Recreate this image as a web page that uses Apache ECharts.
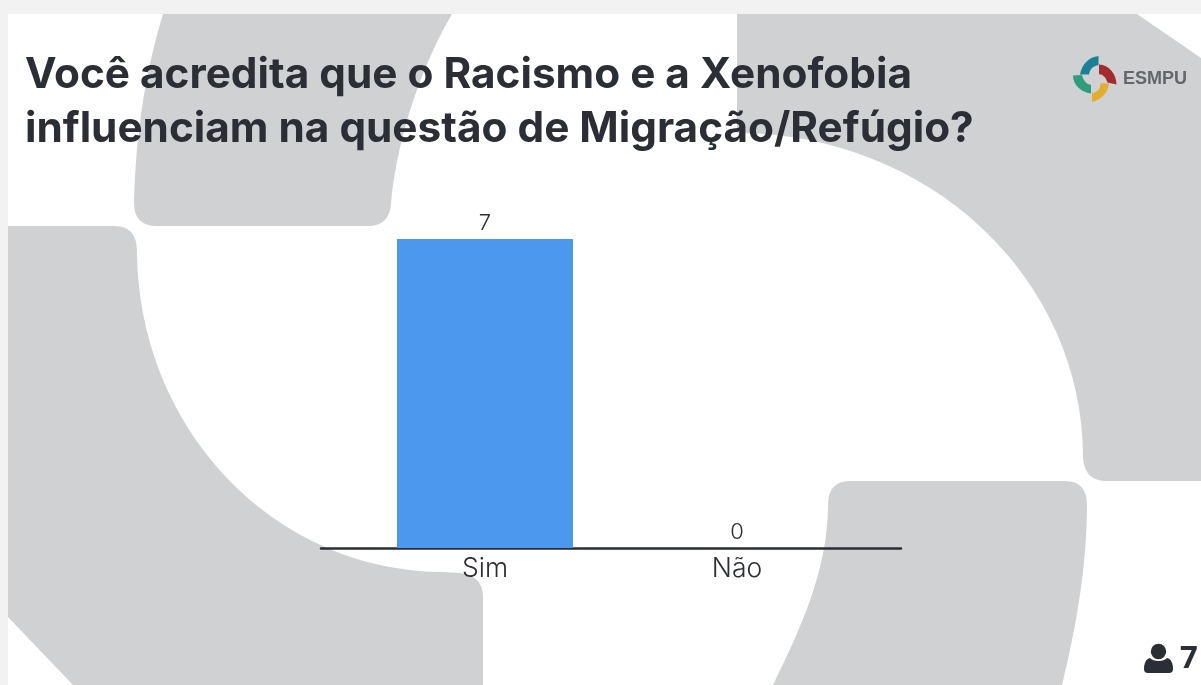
<!DOCTYPE html>
<html>
<head>
<meta charset="utf-8">
<title>ESMPU</title>
<script src="https://cdn.jsdelivr.net/npm/echarts@6/dist/echarts.min.js"></script>
<style>
html, body { margin: 0; padding: 0; background: #f2f2f2; }
#slide { position: absolute; left: 0; top: 0; }
#chart { position: absolute; left: 0; top: 0; width: 1201px; height: 685px; }
</style>
</head>
<body>
<!-- fundo do slide, logo e icone -->
<svg id="slide" width="1201" height="685" viewBox="0 0 1201 685">
	<rect x="8" y="14" width="1193" height="671" fill="#ffffff"/>
	<g fill="#cfd1d3">
		<path d="M163 14H452C425 60 398 130 391 203Q390 226 368 226H157Q134 226 134 203C136 130 146 70 163 14Z"/>
		<path d="M8 226H115Q136 226 137 250A306 322 0 0 0 443 572L460 573Q483 576 483 597V685H73L8 617Z"/>
		<path d="M737 14H1137L1201 58V481H1107Q1084 481 1083 457A346 324 0 0 0 737 133Z"/>
		<path d="M850 481H1065Q1087 481 1087 505C1087 560 1078 620 1062 685H773C800 630 828 570 828 505Q828 481 850 481Z"/>
	</g>
	<path fill="#1b8095" d="M1098.5 56C1089 57 1082 64 1080 74.5L1089 74.5C1090 69 1093 66 1098.5 65Z"/>
	<path fill="#2f9d7c" d="M1073 75.5L1082 75C1083 80 1086 84 1091 85L1091 93.5C1081 92 1073 85 1073 75.5Z"/>
	<path fill="#a12b2f" d="M1099 64.5C1109 65 1116.5 74 1116.5 84.5L1107.5 82.5C1106 78 1104 75 1099 74Z"/>
	<path fill="#e6ac2b" d="M1109 83.5C1108 93 1101 100 1092 102L1092 93.5C1097 92.5 1100.5 89 1100.5 83.5Z"/>
	<circle cx="1158.5" cy="651.5" r="7.7" fill="#2c2e36"/>
	<path fill="#2c2e36" d="M1150 658C1153 662 1164 662 1167 658C1171 659 1173 663 1173 669Q1173 673 1169 673H1148Q1144 673 1144 669C1144 663 1146 659 1150 658Z"/>
</svg>
<div id="chart"></div>
<script>
// dados
var titleLines = ["Você acredita que o Racismo e a Xenofobia", "influenciam na questão de Migração/Refúgio?"];
var categories = ["Sim", "Não"];
var votes = [7, 0];
var respondents = "7";
var brand = "ESMPU";

var INK = "#2c2e36";
var FONT = "Inter, 'Noto Sans', sans-serif";

var chart = echarts.init(document.getElementById("chart"));

chart.setOption({
	animation: false,
	backgroundColor: "transparent",
	textStyle: { fontFamily: FONT },
	title: {
		text: titleLines.join("\n"),
		left: 25,
		top: 48,
		padding: 0,
		textStyle: { fontFamily: FONT, fontSize: 42.3, fontWeight: 700, color: INK, lineHeight: 54 }
	},
	graphic: [
		{
			type: "text", x: 1123, y: 79,
			style: { text: brand, fill: "#63666b", font: "bold 18px 'Liberation Sans', sans-serif", verticalAlign: "middle" }
		},
		{
			type: "text", x: 1180, y: 659,
			style: { text: respondents, fill: INK, font: "bold 31px 'Open Sans', sans-serif", verticalAlign: "middle" }
		}
	],
	// segunda grade so para a linha de base, mais larga que as barras
	grid: [
		{ left: 359, width: 504, top: 239, height: 309 },
		{ left: 321, width: 580, top: 239, height: 309 }
	],
	xAxis: [
		{
			type: "category",
			gridIndex: 0,
			data: categories,
			axisLine: { show: false },
			axisTick: { show: false },
			axisLabel: { fontSize: 26.5, color: INK, margin: 8, fontFamily: FONT, fontWeight: 300 }
		},
		{
			type: "category",
			gridIndex: 1,
			data: [],
			axisLine: { show: true, lineStyle: { color: INK, width: 2.5 } },
			axisTick: { show: false },
			axisLabel: { show: false }
		}
	],
	yAxis: [
		{ type: "value", gridIndex: 0, min: 0, max: 7, show: false, splitLine: { show: false } },
		{ type: "value", gridIndex: 1, min: 0, max: 7, show: false, splitLine: { show: false } }
	],
	series: [{
		type: "bar",
		data: votes,
		barWidth: 176,
		itemStyle: { color: "#4c98ef" },
		label: { show: true, position: "top", distance: 5, fontSize: 22, color: INK, fontFamily: FONT, fontWeight: 300 }
	}]
});

window.addEventListener("resize", function () {
	chart.resize();
});
</script>
</body>
</html>
